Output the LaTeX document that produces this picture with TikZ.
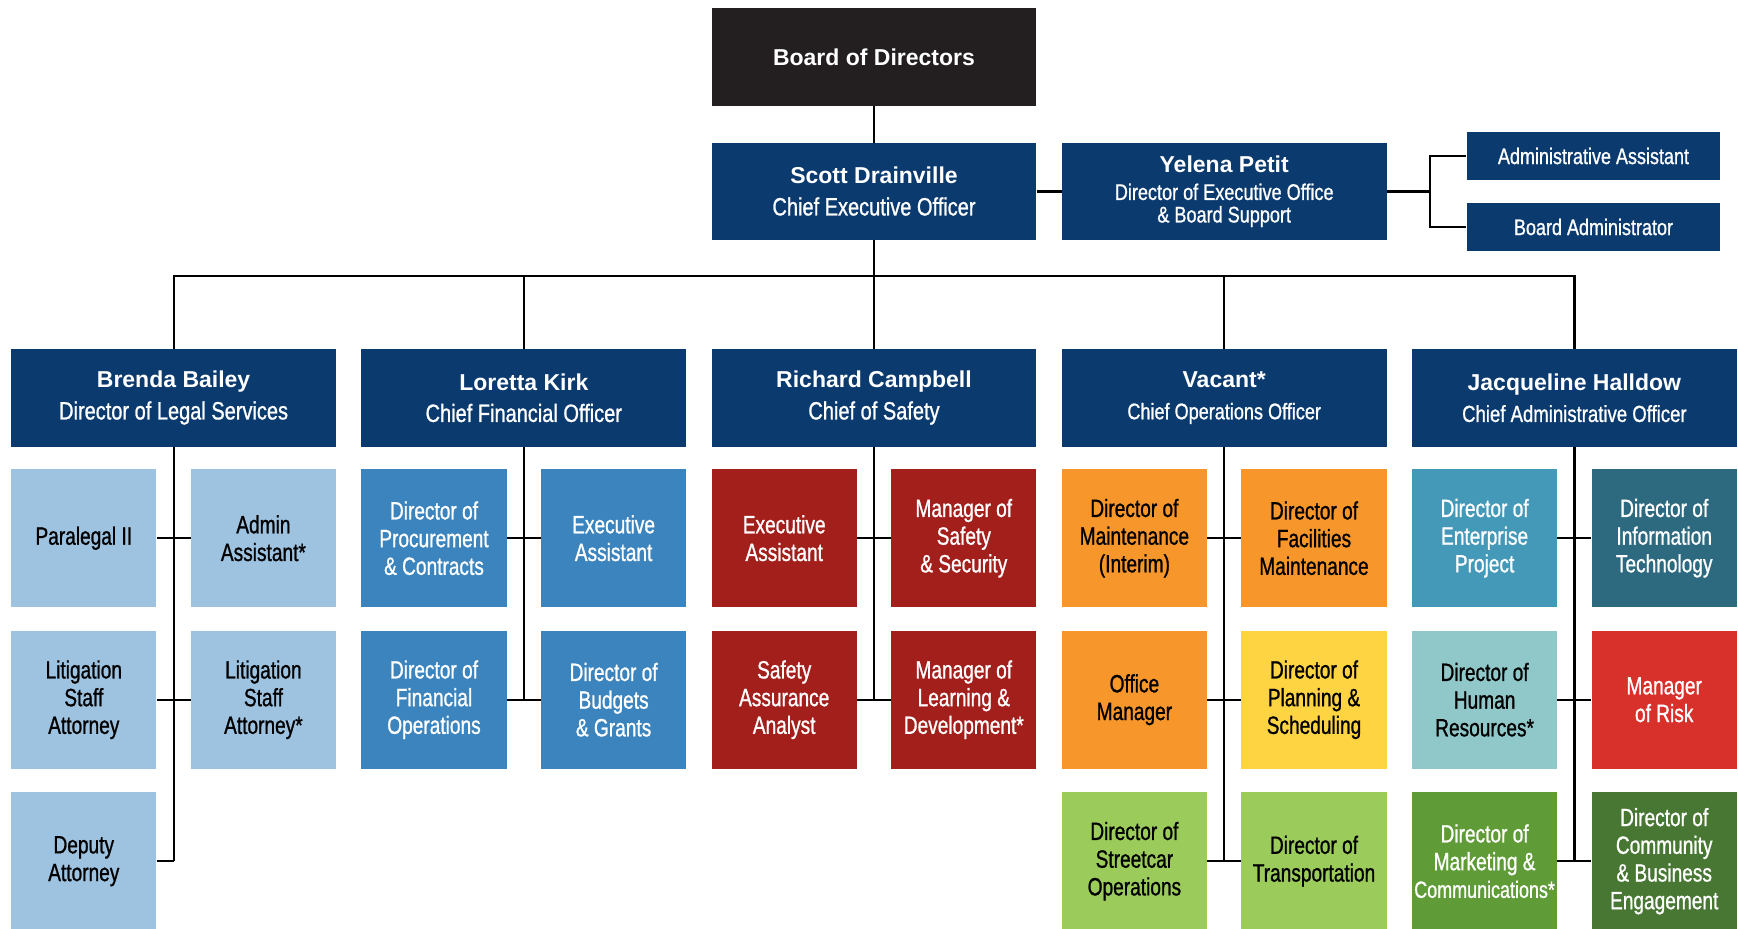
\documentclass[tikz,border=0pt]{standalone}
\usepackage{fontspec}
\setmainfont{Liberation Sans}
\newfontfamily\ttlfont{Liberation Sans}[FakeStretch=0.80,FakeBold=0.9]
\newfontfamily\subfont{Liberation Sans}[FakeStretch=0.764,FakeBold=0.9]

\definecolor{boardc}{HTML}{231F20}
\definecolor{navy}{HTML}{0B3A6F}
\definecolor{legalc}{HTML}{9DC3E0}
\definecolor{financec}{HTML}{3B84BD}
\definecolor{safetyc}{HTML}{A21F1B}
\definecolor{orangec}{HTML}{F7962A}
\definecolor{yellowc}{HTML}{FED443}
\definecolor{limec}{HTML}{9BCB5B}
\definecolor{enterc}{HTML}{4498B8}
\definecolor{itc}{HTML}{2D6A80}
\definecolor{hrc}{HTML}{90C8C9}
\definecolor{riskc}{HTML}{D8302B}
\definecolor{marketc}{HTML}{5F9C38}
\definecolor{commc}{HTML}{477732}

\begin{document}
\begin{tikzpicture}[x=1pt,y=-1pt,
  box/.style={rectangle, inner sep=0pt, anchor=north west, align=center},
  headbox/.style={box, fill=navy, text=white, minimum width=324.8pt,
    minimum height=96.5pt, font=\fontsize{23}{31.5}\selectfont},
  smallbox/.style={box, fill=navy, text=white, minimum width=253.8pt,
    minimum height=47.6pt, font=\ttlfont\fontsize{22.5}{22}\selectfont},
  subbox/.style={box, minimum width=145.2pt, minimum height=138pt,
    font=\subfont\fontsize{25}{27.7}\selectfont},
  link/.style={draw=black, line width=2.2pt}]

\useasboundingbox (0,0) rectangle (1738,929);
\fill[white] (0,0) rectangle (1738,929);

% top of the chart
\node[box, fill=boardc, text=white, minimum width=324.8pt, minimum height=97.5pt,
  font=\bfseries\fontsize{23}{28}\selectfont] (board) at (711.4,8) {Board of Directors};
\node[headbox] (ceo) at (711.4,143)
  {\textbf{Scott Drainville}\\{\ttlfont\fontsize{25}{31}\selectfont Chief Executive Officer}};
\node[headbox, font=\fontsize{22}{22.5}\selectfont] (yelena) at (1061.6,143)
  {\fontsize{23}{31}\selectfont\textbf{Yelena Petit}\\[5pt]{\ttlfont\fontsize{22.6}{22.5}\selectfont Director of Executive Office}\\{\ttlfont\fontsize{22.6}{22.5}\selectfont \& Board Support}};
\node[smallbox] (aa) at (1466.4,132) {Administrative Assistant};
\node[smallbox] (ba) at (1466.4,203) {Board Administrator};

% department heads
\node[headbox, minimum height=97.5pt] (brenda) at (11,349)
  {\textbf{Brenda Bailey}\\{\ttlfont\fontsize{25}{31}\selectfont Director of Legal Services}};
\node[headbox, minimum height=97.5pt] (loretta) at (361.2,349)
  {\textbf{Loretta Kirk}\\{\ttlfont\fontsize{25}{31}\selectfont Chief Financial Officer}};
\node[headbox, minimum height=97.5pt] (richard) at (711.4,349)
  {\textbf{Richard Campbell}\\{\ttlfont\fontsize{25}{31}\selectfont Chief of Safety}};
\node[headbox, minimum height=97.5pt] (vacant) at (1061.6,349)
  {\textbf{Vacant*}\\{\ttlfont\fontsize{22.6}{31}\selectfont Chief Operations Officer}};
\node[headbox, minimum height=97.5pt] (jacq) at (1411.8,349)
  {\textbf{Jacqueline Halldow}\\{\ttlfont\fontsize{23.2}{31}\selectfont Chief Administrative Officer}};

% legal services
\node[subbox, fill=legalc] (l11) at (11,469) {Paralegal II};
\node[subbox, fill=legalc] (l12) at (190.6,469) {Admin\\Assistant*};
\node[subbox, fill=legalc] (l21) at (11,630.5) {Litigation\\Staff\\Attorney};
\node[subbox, fill=legalc] (l22) at (190.6,630.5) {Litigation\\Staff\\Attorney*};
\node[subbox, fill=legalc] (l31) at (11,792) {Deputy\\Attorney};

% finance
\node[subbox, fill=financec, text=white] (f11) at (361.2,469) {Director of\\Procurement\\\& Contracts};
\node[subbox, fill=financec, text=white] (f12) at (540.8,469) {Executive\\Assistant};
\node[subbox, fill=financec, text=white] (f21) at (361.2,630.5) {Director of\\Financial\\Operations};
\node[subbox, fill=financec, text=white] (f22) at (540.8,630.5) {Director of\\Budgets\\\& Grants};

% safety
\node[subbox, fill=safetyc, text=white] (s11) at (711.4,469) {Executive\\Assistant};
\node[subbox, fill=safetyc, text=white] (s12) at (891,469) {Manager of\\Safety\\\& Security};
\node[subbox, fill=safetyc, text=white] (s21) at (711.4,630.5) {Safety\\Assurance\\Analyst};
\node[subbox, fill=safetyc, text=white] (s22) at (891,630.5) {Manager of\\Learning \&\\Development*};

% operations
\node[subbox, fill=orangec] (o11) at (1061.6,469) {Director of\\Maintenance\\(Interim)};
\node[subbox, fill=orangec] (o12) at (1241.2,469) {Director of\\Facilities\\Maintenance};
\node[subbox, fill=orangec] (o21) at (1061.6,630.5) {Office\\Manager};
\node[subbox, fill=yellowc] (o22) at (1241.2,630.5) {Director of\\Planning \&\\Scheduling};
\node[subbox, fill=limec] (o31) at (1061.6,792) {Director of\\Streetcar\\Operations};
\node[subbox, fill=limec] (o32) at (1241.2,792) {Director of\\Transportation};

% administration
\node[subbox, fill=enterc, text=white] (a11) at (1411.8,469) {Director of\\Enterprise\\Project};
\node[subbox, fill=itc, text=white] (a12) at (1591.4,469) {Director of\\Information\\Technology};
\node[subbox, fill=hrc] (a21) at (1411.8,630.5) {Director of\\Human\\Resources*};
\node[subbox, fill=riskc, text=white] (a22) at (1591.4,630.5) {Manager\\of Risk};
\node[subbox, fill=marketc, text=white, font=\subfont\fontsize{23.5}{27.7}\selectfont] (a31) at (1411.8,792)
  {\fontsize{25}{27.7}\selectfont Director of\\\fontsize{25}{27.7}\selectfont Marketing \&\\Communications*};
\node[subbox, fill=commc, text=white] (a32) at (1591.4,792) {Director of\\Community\\\& Business\\Engagement};

% connectors: top
\coordinate (bus) at (0,276);
\coordinate (yj) at (1430,0);
\draw[link] (board.south) -- (ceo.north);
\draw[link] (ceo.east) -- (yelena.west);
\draw[link] (yelena.east) -- (yelena.east -| yj);
\draw[link] (aa.west) -- (aa.west -| yj) -- (ba.west -| yj) -- (ba.west);
\draw[link] (ceo.south) -- (richard.north);
\draw[link] (brenda.north) -- (brenda.north |- bus) -- (jacq.north |- bus) -- (jacq.north);
\draw[link] (loretta.north) -- (loretta.north |- bus);
\draw[link] (vacant.north) -- (vacant.north |- bus);

% connectors: legal
\draw[link] (brenda.south) -- (brenda.south |- l31.east);
\draw[link] (l11.east) -- (l12.west);
\draw[link] (l21.east) -- (l22.west);
\draw[link] (l31.east) -- (brenda.south |- l31.east);
% connectors: finance
\draw[link] (loretta.south) -- (loretta.south |- f21.east);
\draw[link] (f11.east) -- (f12.west);
\draw[link] (f21.east) -- (f22.west);
% connectors: safety
\draw[link] (richard.south) -- (richard.south |- s21.east);
\draw[link] (s11.east) -- (s12.west);
\draw[link] (s21.east) -- (s22.west);
% connectors: operations
\draw[link] (vacant.south) -- (vacant.south |- o31.east);
\draw[link] (o11.east) -- (o12.west);
\draw[link] (o21.east) -- (o22.west);
\draw[link] (o31.east) -- (o32.west);
% connectors: administration
\draw[link] (jacq.south) -- (jacq.south |- a31.east);
\draw[link] (a11.east) -- (a12.west);
\draw[link] (a21.east) -- (a22.west);
\draw[link] (a31.east) -- (a32.west);
\end{tikzpicture}
\end{document}
